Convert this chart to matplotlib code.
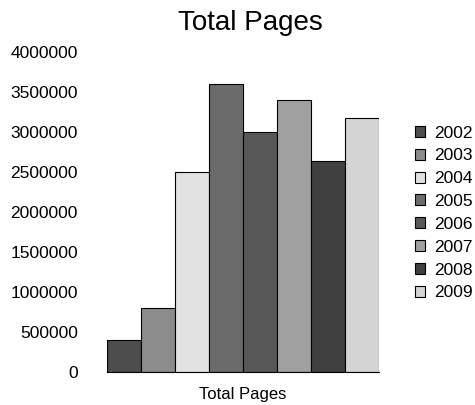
import matplotlib
matplotlib.use("Agg")
import matplotlib.pyplot as plt
import numpy as np

plt.rcParams['font.family'] = ['Liberation Sans', 'DejaVu Sans']

years = ["2002", "2003", "2004", "2005", "2006", "2007", "2008", "2009"]
values = [400000, 800000, 2500000, 3600000, 3000000, 3400000, 2640000, 3180000]
category = "Total Pages"
yticks = [0, 500000, 1000000, 1500000, 2000000, 2500000, 3000000, 3500000, 4000000]
colors = ["#4d4d4d", "#8c8c8c", "#e2e2e2", "#6b6b6b", "#585858", "#a0a0a0", "#404040", "#d4d4d4"]

fig = plt.figure(figsize=(4.75, 4.05), dpi=100)
ax = fig.add_axes([107/475, 1-372/405, (379-107)/475, (372-52)/405])

n = len(years)
for i, (yr, v, c) in enumerate(zip(years, values, colors)):
    ax.bar(i, v, width=1.0, color=c, edgecolor="black", linewidth=0.8, label=yr)

ax.set_xlim(-0.5, n - 0.5)
ax.set_ylim(0, 4000000)
ax.set_yticks(yticks)
ax.set_yticklabels([str(t) for t in yticks], fontsize=12.5)
ax.set_xticks([(n - 1) / 2])
ax.set_xticklabels([category], fontsize=12)
ax.tick_params(axis='y', length=0, pad=21)
ax.tick_params(axis='x', length=0, pad=11)
for s in ["top", "right", "left"]:
    ax.spines[s].set_visible(False)
ax.spines["bottom"].set_linewidth(0.8)

fig.text(250/475, 1-23/405, "Total Pages", ha="center", va="center", fontsize=20)

fig.legend(loc="center left", bbox_to_anchor=(415/475, 1-213/405), frameon=False,
           borderpad=0, borderaxespad=0, handlelength=0.6, handleheight=0.6,
           handletextpad=0.5, labelspacing=0.45, fontsize=12.5)

fig.savefig("out.png", dpi=100)
